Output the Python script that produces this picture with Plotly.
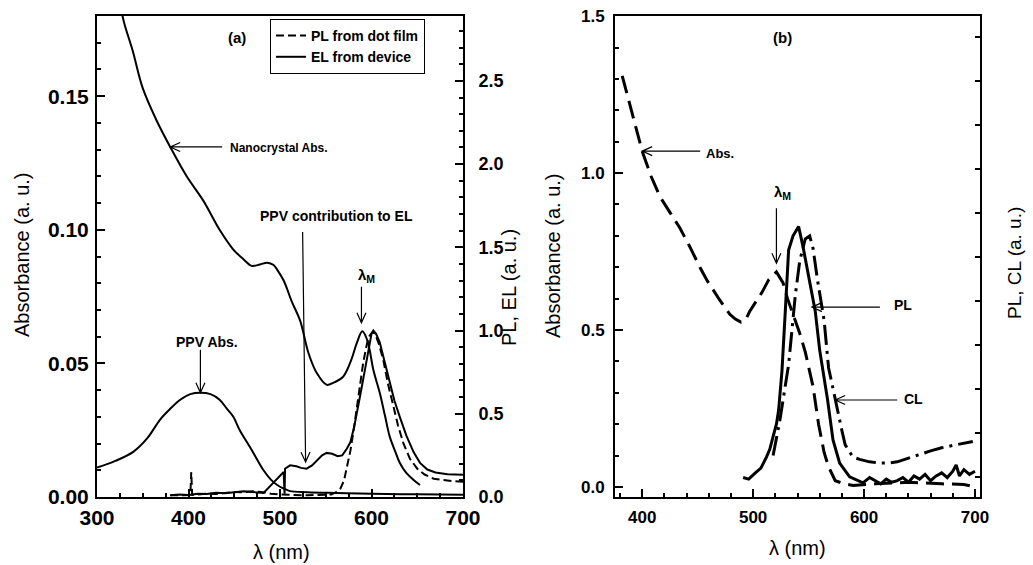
import plotly.graph_objects as go

# ======================================================
# (a) nanocrystal / PPV absorbance + PL / EL spectra
# ======================================================
nc_wl = [326, 330, 339, 350, 365, 380, 398, 416, 434, 449, 460, 469, 478, 486, 493, 497,
         504, 513, 522, 531, 540, 551, 560, 569, 578, 584, 590, 595, 598, 602, 609, 615,
         620, 626, 631, 638, 646, 653]
nc_abs = [0.183, 0.177, 0.167, 0.153, 0.141, 0.131, 0.120, 0.111, 0.100, 0.0926, 0.089,
          0.0865, 0.087, 0.0877, 0.0868, 0.085, 0.081, 0.073, 0.066, 0.054, 0.0465, 0.042,
          0.043, 0.045, 0.0514, 0.0577, 0.062, 0.059, 0.055, 0.0476, 0.039, 0.030, 0.0225,
          0.017, 0.0127, 0.009, 0.0064, 0.0045]

ppv_wl = [300, 320, 340, 355, 369, 380, 391, 402, 413, 424, 434, 442, 449, 456, 467, 475,
          482, 490, 497, 505, 511, 530, 560, 600, 650, 700]
ppv_abs = [0.011, 0.0135, 0.017, 0.022, 0.029, 0.033, 0.0364, 0.0385, 0.039, 0.0385, 0.0364,
           0.033, 0.030, 0.025, 0.0188, 0.014, 0.010, 0.0065, 0.0045, 0.003, 0.0022, 0.0018,
           0.0015, 0.0012, 0.001, 0.0008]

el_wl = [380, 390, 400, 410, 420, 430, 440, 450, 460, 470, 476, 482, 490, 497, 504, 505,
         505.5, 511, 518, 523, 529, 535, 541, 546, 551, 557, 563, 568, 573, 577, 581, 584,
         588, 593, 597, 600, 602, 605, 609, 614, 620, 625, 631, 638, 646, 653, 661, 670,
         683, 700]
el_int = [0.01, 0.015, 0.012, 0.02, 0.018, 0.025, 0.022, 0.03, 0.035, 0.03, 0.028, 0.024,
          0.07, 0.11, 0.15, 0.02, 0.17, 0.19, 0.185, 0.175, 0.17, 0.19, 0.22, 0.25, 0.265,
          0.26, 0.245, 0.25, 0.29, 0.33, 0.42, 0.5, 0.62, 0.77, 0.9, 0.98, 1.0, 0.98, 0.93,
          0.82, 0.68, 0.58, 0.48, 0.37, 0.27, 0.205, 0.165, 0.147, 0.137, 0.134]

pl_wl = [380, 390, 398, 402, 403, 404, 410, 420, 430, 440, 450, 460, 470, 480, 490, 500,
         510, 520, 530, 540, 550, 556, 562, 566, 570, 574, 577, 581, 584, 588, 591, 595,
         598, 601, 604, 608, 613, 618, 624, 629, 635, 642, 650, 658, 668, 680, 690, 700]
pl_int = [0.01, 0.012, 0.01, 0.012, 0.15, 0.012, 0.015, 0.02, 0.018, 0.025, 0.03, 0.028,
          0.035, 0.03, 0.02, 0.015, 0.012, 0.01, 0.01, 0.012, 0.012, 0.015, 0.03, 0.05, 0.1,
          0.2, 0.28, 0.42, 0.54, 0.7, 0.81, 0.92, 0.97, 0.99, 0.98, 0.92, 0.82, 0.68, 0.55,
          0.43, 0.32, 0.23, 0.17, 0.135, 0.11, 0.1, 0.095, 0.092]

# ======================================================
# (b) absorbance + PL / CL
# ======================================================
b_abs_wl = [382, 390, 400, 408, 416, 425, 434, 443, 452, 459, 465, 470, 479, 484, 489, 493,
            497, 503, 508, 514, 521, 527, 531, 535, 542, 547, 554, 559, 564, 568, 574, 582,
            590, 610, 640, 670, 690, 700]
b_abs = [1.31, 1.20, 1.07, 0.99, 0.925, 0.875, 0.825, 0.765, 0.70, 0.655, 0.62, 0.595, 0.55,
         0.535, 0.525, 0.53, 0.56, 0.595, 0.62, 0.66, 0.685, 0.65, 0.60, 0.56, 0.49, 0.43,
         0.32, 0.20, 0.11, 0.064, 0.02, 0.01, 0.005, 0.01, 0.015, 0.01, 0.008, 0.0]

b_pl_wl = [491, 496, 502, 507, 512, 515, 518, 521, 523, 526, 529, 532, 536, 541, 545, 551,
           556, 560, 567, 572, 578, 587, 599, 605, 610, 615, 620, 625, 630, 635, 640, 645,
           650, 655, 660, 665, 670, 675, 680, 683, 686, 690, 695, 700]
b_pl = [0.03, 0.025, 0.045, 0.06, 0.095, 0.12, 0.16, 0.2, 0.245, 0.37, 0.56, 0.755, 0.80,
        0.83, 0.765, 0.65, 0.56, 0.436, 0.28, 0.15, 0.076, 0.032, 0.013, 0.03, 0.02, 0.01,
        0.025, 0.015, 0.02, 0.03, 0.015, 0.035, 0.025, 0.04, 0.02, 0.035, 0.045, 0.03, 0.05,
        0.07, 0.035, 0.055, 0.04, 0.05]

b_cl_wl = [518, 524, 528, 532, 535, 538, 542, 547, 551, 554, 558, 561, 564, 568, 572, 576,
           580, 583, 587, 590, 596, 605, 614, 622, 630, 640, 650, 660, 670, 680, 690, 698]
b_cl = [0.10, 0.21, 0.30, 0.39, 0.50, 0.61, 0.72, 0.79, 0.80, 0.76, 0.66, 0.60, 0.53, 0.38,
        0.31, 0.24, 0.18, 0.134, 0.11, 0.095, 0.088, 0.08, 0.076, 0.076, 0.08, 0.092, 0.105,
        0.115, 0.125, 0.132, 0.14, 0.145]

W, H = 1033, 565
FONT = "Liberation Sans, Arial, sans-serif"


def px(x):
    return x / W


def py(y):
    return 1 - y / H


fig = go.Figure()

# ---------------- (a) ----------------
fig.add_trace(go.Scatter(x=nc_wl, y=nc_abs, mode="lines", line=dict(color="black", width=2),
                         xaxis="x", yaxis="y", showlegend=False, line_shape="spline"))
fig.add_trace(go.Scatter(x=ppv_wl, y=ppv_abs, mode="lines", line=dict(color="black", width=2),
                         xaxis="x", yaxis="y", showlegend=False, line_shape="spline"))
fig.add_trace(go.Scatter(x=pl_wl, y=pl_int, mode="lines", name="PL from dot film",
                         line=dict(color="black", width=2, dash="8px,4px"),
                         xaxis="x", yaxis="y2"))
fig.add_trace(go.Scatter(x=el_wl, y=el_int, mode="lines", name="EL from device",
                         line=dict(color="black", width=2), xaxis="x", yaxis="y2"))

# ---------------- (b) ----------------
fig.add_trace(go.Scatter(x=b_abs_wl, y=b_abs, mode="lines", showlegend=False,
                         line=dict(color="black", width=3, dash="18px,8px"),
                         xaxis="x2", yaxis="y3"))
fig.add_trace(go.Scatter(x=b_pl_wl, y=b_pl, mode="lines", showlegend=False,
                         line=dict(color="black", width=3), xaxis="x2", yaxis="y4"))
fig.add_trace(go.Scatter(x=b_cl_wl, y=b_cl, mode="lines", showlegend=False,
                         line=dict(color="black", width=3, dash="20px,6px,3px,6px"),
                         xaxis="x2", yaxis="y4"))

ax_common = dict(showgrid=False, zeroline=False, showline=True, linecolor="black", linewidth=2,
                 ticks="inside", ticklen=8, tickwidth=1.5, tickcolor="black", automargin=False)

fig.update_layout(
    template="none",
    width=W, height=H,
    margin=dict(l=0, r=0, t=0, b=0, pad=0, autoexpand=False),
    paper_bgcolor="white", plot_bgcolor="white",
    font=dict(family=FONT, color="black"),
    xaxis=dict(ax_common, domain=[px(97), px(463)], range=[300, 700], dtick=100, anchor="y",
               mirror=True, minor=dict(dtick=25, ticks="inside", ticklen=4),
               tickfont=dict(size=21, weight="bold"), ticklabelstandoff=1),
    yaxis=dict(ax_common, domain=[py(497), py(16)], range=[0, 0.18], dtick=0.05,
               tickformat=".2f", anchor="x",
               minor=dict(dtick=0.01, ticks="inside", ticklen=4),
               tickfont=dict(size=21, weight="bold"), ticklabelstandoff=2),
    yaxis2=dict(ax_common, overlaying="y", side="right", anchor="x", range=[0, 2.89],
                dtick=0.5, tickformat=".1f",
                minor=dict(dtick=0.1, ticks="inside", ticklen=4),
                tickfont=dict(size=18, weight="bold"), ticklabelstandoff=10),
    xaxis2=dict(ax_common, domain=[px(615), px(980)], range=[375.5, 704.5], dtick=100,
                anchor="y3", mirror=True, minor=dict(dtick=20, ticks="inside", ticklen=4),
                tickfont=dict(size=17, weight="bold"), ticklabelstandoff=4),
    yaxis3=dict(ax_common, domain=[py(497), py(16)], range=[-0.032, 1.5005], dtick=0.5,
                tickformat=".1f", anchor="x2",
                minor=dict(dtick=0.1, ticks="inside", ticklen=4),
                tickfont=dict(size=17, weight="bold"), ticklabelstandoff=5),
    yaxis4=dict(ax_common, overlaying="y3", side="right", anchor="x2", range=[-0.032, 1.5005],
                tick0=0.033, dtick=0.14, showticklabels=False, ticklen=5),
    showlegend=True,
    legend=dict(x=px(270), y=py(19), xanchor="left", yanchor="top",
                bordercolor="black", borderwidth=1, bgcolor="white",
                font=dict(size=14, family=FONT, weight="bold"), tracegroupgap=0),
)


# arrows: tip at data point, tail offset (dx, dy) in screen pixels
def arrow(xref, yref, x, y, dx, dy, head=10, half=4.5):
    L = (dx * dx + dy * dy) ** 0.5
    ux, uy = dx / L, dy / L
    vx, vy = -uy, ux
    h1 = (head * ux + half * vx, head * uy + half * vy)
    h2 = (head * ux - half * vx, head * uy - half * vy)
    path = (f"M{dx:.1f},{-dy:.1f} L0,0 M{h1[0]:.1f},{-h1[1]:.1f} L0,0 "
            f"L{h2[0]:.1f},{-h2[1]:.1f}")
    fig.add_shape(type="path", xref=xref, yref=yref, xsizemode="pixel", ysizemode="pixel",
                  xanchor=x, yanchor=y, path=path, line=dict(color="black", width=1.2))


arrow("x", "y", 380, 0.131, 52, 0)          # Nanocrystal Abs.
arrow("x", "y", 413, 0.039, 0, -43)         # PPV Abs.
arrow("x", "y2", 528, 0.21, -3, -230)       # PPV contribution to EL
arrow("x", "y", 589, 0.0652, 0, -36)        # lambda_M (a)
arrow("x2", "y3", 400, 1.07, 58, 0)         # Abs.
arrow("x2", "y3", 521, 0.713, 0, -55)       # lambda_M (b)
arrow("x2", "y4", 553, 0.573, 68, 0)        # PL
arrow("x2", "y4", 574, 0.277, 62, 0)        # CL


def text(x, y, s, size=14, xanchor="center", angle=0, weight="bold"):
    fig.add_annotation(x=px(x), y=py(y), xref="paper", yref="paper", text=s,
                       showarrow=False, xanchor=xanchor, yanchor="middle",
                       textangle=angle,
                       font=dict(size=size, family=FONT, color="black", weight=weight))


# panel labels and annotations
text(237, 37, "(a)", 15)
text(228, 148, "Nanocrystal Abs.", 12, "left")
text(207, 342, "PPV Abs.", 14)
text(336, 216, "PPV contribution to EL", 14)
text(366, 275, "λ<sub>M</sub>", 15)

text(782, 37, "(b)", 15)
text(704, 153, "Abs.", 13, "left")
text(782, 193, "λ<sub>M</sub>", 15)
text(892, 305, "PL", 14, "left")
text(902, 399, "CL", 14, "left")

# axis titles
text(22, 255, "Absorbance (a. u.)", 20, angle=-90, weight="normal")
text(509, 288, "PL, EL (a. u.)", 20, angle=-90, weight="normal")
text(281, 552, "λ (nm)", 20, weight="normal")
text(553, 256, "Absorbance (a. u.)", 20, angle=-90, weight="normal")
text(1015, 263, "PL, CL (a. u.)", 19, angle=-90, weight="normal")
text(797, 548, "λ (nm)", 20, weight="normal")

fig.write_html("out.html", config={"displayModeBar": False},
               post_script="document.body.style.margin='0px';")
